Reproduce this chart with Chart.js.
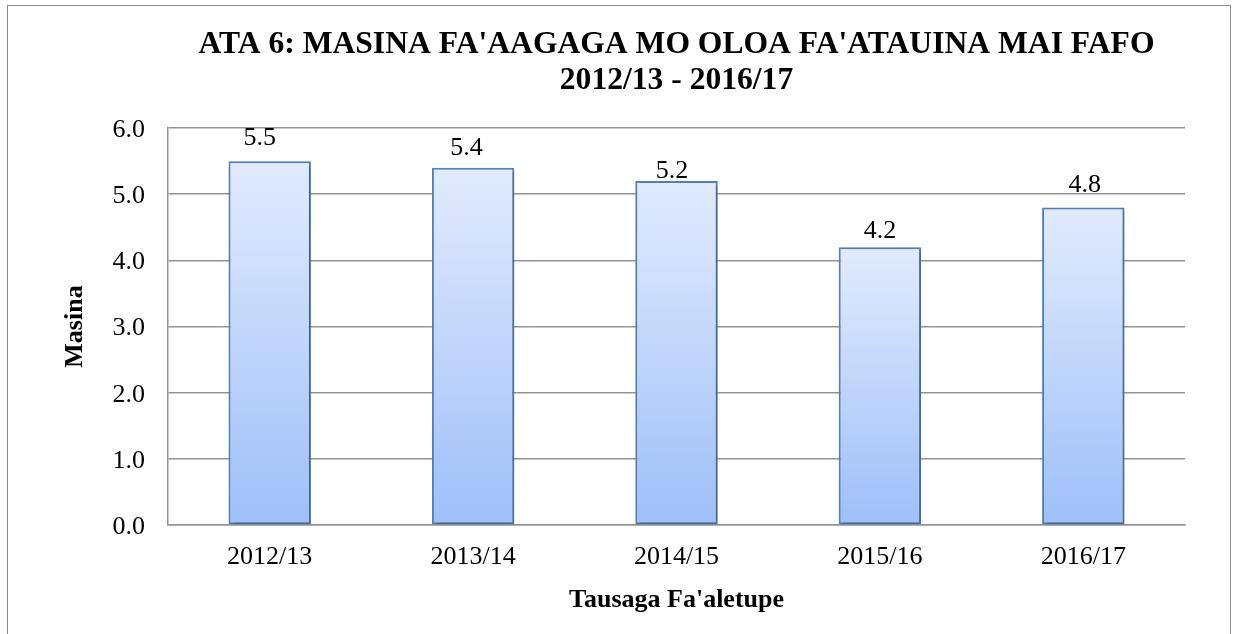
<!DOCTYPE html>
<html>
<head>
<meta charset="utf-8">
<script src="https://cdn.jsdelivr.net/npm/chart.js@4"></script>
<style>
  html, body { margin: 0; padding: 0; background: #ffffff; overflow: hidden; }
  #frame { position: absolute; left: 7px; top: 5px; width: 1224px; height: 700px; border: 1px solid #8c8c8c; box-sizing: border-box; }
  canvas { position: absolute; left: 0; top: 0; }
</style>
</head>
<body>
<div id="frame"></div>
<canvas id="c" width="1233" height="634"></canvas>
<script>
// ---- data ----
const categories = ['2012/13', '2013/14', '2014/15', '2015/16', '2016/17'];
const values = [5.5, 5.4, 5.2, 4.2, 4.8];
const yTicks = [0, 1, 2, 3, 4, 5, 6];
const titleLines = ["ATA 6: MASINA FA'AAGAGA MO OLOA FA'ATAUINA MAI FAFO", '2012/13 - 2016/17'];
const yTitle = 'Masina';
const xTitle = "Tausaga Fa'aletupe";

// ---- style ----
const SERIF = "'Liberation Serif', 'Times New Roman', serif";
const GRID = '#939393';
// nudges of value labels relative to default position (dx, extra gap above bar)
const labelNudge = [[-10, 16], [-6.5, 13], [-4.5, 3], [0, 9], [1.5, 15]];

function barGradient(ctx) {
  const chart = ctx.chart;
  const area = chart.chartArea;
  if (!area || ctx.type !== 'data') return '#c3d7fb';
  const y = chart.scales.y;
  const top = y.getPixelForValue(ctx.raw);
  const base = y.getPixelForValue(0);
  const g = chart.ctx.createLinearGradient(0, top, 0, base);
  g.addColorStop(0, '#e2ebfd');
  g.addColorStop(1, '#9ebff8');
  return g;
}

const shadowPlugin = {
  id: 'barShadow',
  beforeDatasetsDraw(chart) {
    const c = chart.ctx;
    c.save();
    c.shadowColor = 'rgba(0,0,0,0.28)';
    c.shadowBlur = 4;
    c.shadowOffsetX = 2;
    c.shadowOffsetY = 2;
  },
  afterDatasetsDraw(chart) {
    chart.ctx.restore();
  }
};

const valueLabelPlugin = {
  id: 'valueLabels',
  afterDatasetsDraw(chart) {
    const c = chart.ctx;
    const meta = chart.getDatasetMeta(0);
    c.save();
    c.font = '26px ' + SERIF;
    c.fillStyle = '#000000';
    c.textAlign = 'center';
    c.textBaseline = 'alphabetic';
    meta.data.forEach((bar, i) => {
      const v = chart.data.datasets[0].data[i];
      const n = labelNudge[i] || [0, 14];
      c.fillText(v.toFixed(1), bar.x + n[0], bar.y - n[1]);
    });
    c.restore();
  }
};

new Chart(document.getElementById('c'), {
  type: 'bar',
  data: {
    labels: categories,
    datasets: [{
      data: values,
      backgroundColor: barGradient,
      borderColor: '#4f81bd',
      borderWidth: 2,
      borderSkipped: false,
      barPercentage: 0.405,
      categoryPercentage: 1.0
    }]
  },
  options: {
    responsive: false,
    animation: false,
    devicePixelRatio: 1,
    layout: { padding: { left: 0, right: 48, top: 0, bottom: 0 } },
    plugins: {
      legend: { display: false },
      tooltip: { enabled: false },
      title: {
        display: true,
        text: titleLines,
        fullSize: false,
        color: '#000000',
        font: { family: SERIF, size: 31.6, weight: 'bold', lineHeight: 1.14 },
        padding: { top: 27, bottom: 29 }
      }
    },
    scales: {
      x: {
        grid: { display: false, drawTicks: false },
        border: { display: true, color: GRID, width: 1.5 },
        ticks: { color: '#000000', font: { family: SERIF, size: 26 }, padding: 17, maxRotation: 0 },
        title: { display: true, text: xTitle, color: '#000000', font: { family: SERIF, size: 26, weight: 'bold' }, padding: { top: 0, bottom: 18 } },
        afterFit(s) { s.height = 109; }
      },
      y: {
        min: 0,
        max: 6,
        afterBuildTicks(s) { s.ticks = yTicks.map(v => ({ value: v })); },
        grid: { display: true, color: GRID, lineWidth: 1.5, drawTicks: false },
        border: { display: true, color: GRID, width: 1.5 },
        ticks: { color: '#000000', font: { family: SERIF, size: 26 }, padding: 23, labelOffset: 2, callback: v => Number(v).toFixed(1) },
        title: { display: true, text: yTitle, color: '#000000', font: { family: SERIF, size: 26, weight: 'bold' }, padding: { top: 60, bottom: 0 } },
        afterFit(s) { s.width = 168; }
      }
    }
  },
  plugins: [shadowPlugin, valueLabelPlugin]
});
</script>
</body>
</html>
